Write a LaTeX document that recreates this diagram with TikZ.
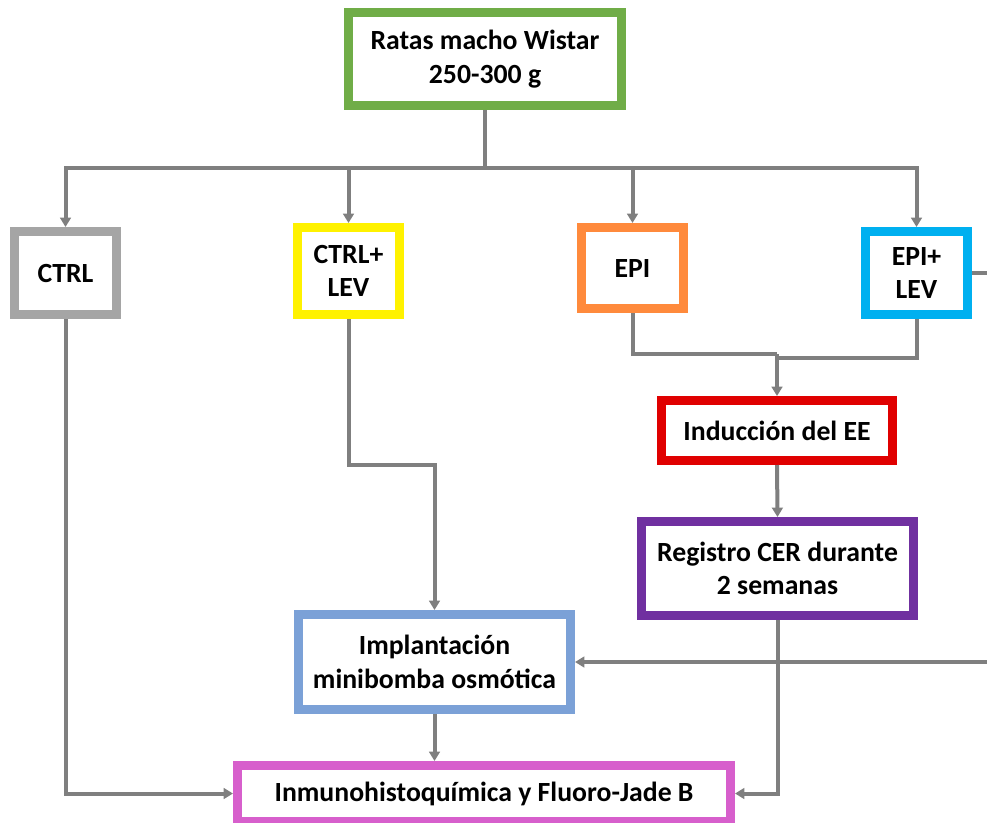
\documentclass[tikz,border=0pt]{standalone}
\usepackage{fontspec}
\setmainfont{Carlito}
\usetikzlibrary{arrows.meta}
\definecolor{cgreen}{HTML}{70AD47}
\definecolor{cgrey}{HTML}{A5A5A5}
\definecolor{cyellow}{HTML}{FFF200}
\definecolor{corange}{HTML}{FF8A3C}
\definecolor{cblue}{HTML}{00B0F0}
\definecolor{cred}{HTML}{E00000}
\definecolor{cpurple}{HTML}{7030A0}
\definecolor{cimpl}{HTML}{7BA1D7}
\definecolor{cpink}{HTML}{D75FCC}
\definecolor{cline}{HTML}{7F7F7F}
\tikzset{
  box/.style={draw, line width=6.75pt, fill=white, align=center, inner sep=0pt,
    font=\fontsize{20.8}{25}\selectfont\bfseries},
  conn/.style={draw=cline, line width=3pt},
  arr/.style={conn, -{Triangle[length=7pt,width=8pt]}}
}
\begin{document}
\begin{tikzpicture}[x=0.75pt,y=-0.75pt]
\useasboundingbox (0,0) rectangle (987,822);
\node[box, draw=cgreen, minimum width=204.75pt, minimum height=69.75pt] (ratas) at (485,59) {Ratas macho Wistar\\250-300 g};
\node[box, draw=cgrey, minimum width=76.5pt, minimum height=62.25pt] (ctrl) at (65.5,273) {CTRL};
\node[box, draw=cyellow, minimum width=76.5pt, minimum height=65.25pt] (ctrllev) at (348.5,271) {CTRL+\\LEV};
\node[box, draw=corange, minimum width=76.5pt, minimum height=60.75pt] (epi) at (632.5,268) {EPI};
\node[box, draw=cblue, minimum width=76.5pt, minimum height=62.25pt] (epilev) at (916.5,273) {EPI+\\LEV};
\node[box, draw=cred, minimum width=173.25pt, minimum height=45pt] (ind) at (777,430.5) {Inducción del EE};
\node[box, draw=cpurple, minimum width=204pt, minimum height=70.5pt] (reg) at (777.5,568.5) {Registro CER durante\\2 semanas};
\node[box, draw=cimpl, minimum width=204pt, minimum height=71.25pt] (impl) at (434.5,662) {Implantación\\minibomba osmótica};
\node[box, draw=cpink, minimum width=369.75pt, minimum height=42pt] (inm) at (484,793.5) {Inmunohistoquímica y Fluoro-Jade B};

\coordinate (bus) at (485,168);
\draw[conn] (ratas.south) -- (bus);
\draw[arr] (bus) -| (ctrl.north);
\draw[arr] (bus) -| (ctrllev.north);
\draw[arr] (bus) -| (epi.north);
\draw[arr] (bus) -| (epilev.north);

\coordinate (m1) at (ind.north |- 0,354);
\coordinate (m2) at (ind.north |- 0,358);
\draw[conn] (epi.south) |- (m1);
\draw[conn] (epilev.south) |- (m2);
\draw[arr] (m1) -- (ind.north);
\draw[arr] (ind.south) -- (reg.north);

\draw[arr] (ctrl.south) |- (inm.west);
\draw[arr] (reg.south) |- (inm.east);

\coordinate (k1) at (ctrllev.south |- 0,465);
\draw[arr] (ctrllev.south) -- (k1) -| (impl.north);
\draw[arr] (impl.south) -- (impl.south |- inm.north);

\coordinate (e1) at (987,273);
\coordinate (e2) at (987,662);
\draw[conn] (epilev.east) -- (e1);
\draw[arr] (e2) -- (impl.east);
\end{tikzpicture}
\end{document}
